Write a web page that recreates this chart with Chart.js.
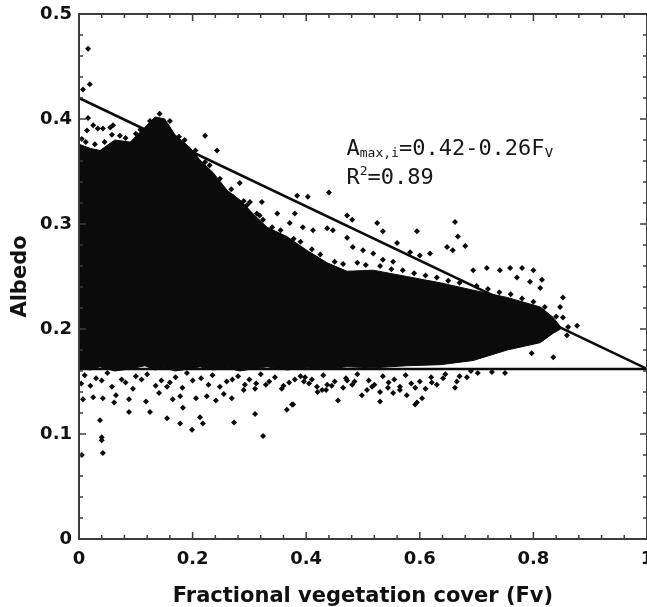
<!DOCTYPE html>
<html><head><meta charset="utf-8">
<script src="https://cdn.jsdelivr.net/npm/chart.js@4.4.1/dist/chart.umd.min.js"></script>
<style>html,body{margin:0;padding:0;background:#fff;overflow:hidden}#wrap{width:647px;height:607px;position:relative}</style>
</head><body><div id="wrap"><canvas id="c" width="647" height="607"></canvas></div>
<script>
// Tick labels
const xTickValues = [0, 0.2, 0.4, 0.6, 0.8, 1];
const yTickValues = [0, 0.1, 0.2, 0.3, 0.4, 0.5];

// Dense point cloud envelope
const cloudX      = [0, 0.02, 0.037, 0.063, 0.09, 0.116, 0.134, 0.151, 0.169, 0.195, 0.213, 0.236, 0.261, 0.283, 0.306, 0.331, 0.366, 0.401, 0.437, 0.472, 0.518, 0.577, 0.636, 0.694, 0.754, 0.812, 0.835, 0.848];
const cloudTop    = [0.376, 0.372, 0.37, 0.38, 0.378, 0.392, 0.402, 0.40, 0.385, 0.373, 0.361, 0.349, 0.332, 0.323, 0.31, 0.297, 0.288, 0.275, 0.263, 0.255, 0.256, 0.25, 0.244, 0.237, 0.23, 0.221, 0.211, 0.202];
const cloudBottom = [0.163, 0.161, 0.164, 0.16, 0.162, 0.165, 0.161, 0.163, 0.16, 0.162, 0.164, 0.161, 0.163, 0.16, 0.162, 0.164, 0.161, 0.163, 0.162, 0.164, 0.163, 0.165, 0.166, 0.17, 0.18, 0.187, 0.196, 0.2];

// Points along the ragged top edge of the cloud
const topEdgeX = [0.005,0.012,0.028,0.045,0.058,0.072,0.082,0.1,0.108,0.125,0.142,0.16,0.176,0.186,0.205,0.222,0.23,0.248,0.268,0.29,0.296,0.318,0.34,0.355,0.378,0.39,0.41,0.425,0.45,0.465,0.49,0.505,0.53,0.55,0.57,0.59,0.61,0.63,0.65,0.67,0.7,0.72,0.74,0.76,0.78,0.8,0.82,0.84];
const topEdgeY = [0.381,0.378,0.376,0.378,0.385,0.384,0.382,0.386,0.39,0.398,0.405,0.398,0.383,0.38,0.37,0.359,0.356,0.343,0.333,0.322,0.318,0.308,0.297,0.294,0.286,0.283,0.276,0.271,0.264,0.262,0.263,0.261,0.26,0.257,0.256,0.253,0.251,0.249,0.246,0.244,0.241,0.238,0.235,0.233,0.229,0.226,0.221,0.212];

// Scattered points above the dense cloud
const upperX = [0.016,0.019,0.007,0.016,0.025,0.033,0.042,0.055,0.014,0.06,0.222,0.243,0.283,0.301,0.322,0.349,0.38,0.384,0.403,0.44,0.472,0.481,0.437,0.447,0.472,0.525,0.535,0.595,0.662,0.667,0.648,0.658,0.68,0.56,0.583,0.60,0.618,0.694,0.718,0.741,0.759,0.78,0.80,0.815,0.771,0.794,0.812,0.852,0.847,0.852,0.877,0.861,0.859,0.394,0.371,0.412,0.324,0.313,0.271,0.482,0.50,0.518,0.535,0.553];
const upperY = [0.467,0.433,0.428,0.401,0.394,0.391,0.391,0.392,0.389,0.394,0.384,0.37,0.339,0.321,0.321,0.31,0.31,0.327,0.326,0.33,0.308,0.304,0.296,0.294,0.287,0.301,0.293,0.293,0.302,0.288,0.278,0.275,0.279,0.282,0.273,0.27,0.272,0.256,0.258,0.256,0.258,0.258,0.256,0.247,0.249,0.245,0.239,0.23,0.221,0.211,0.203,0.202,0.194,0.297,0.301,0.294,0.304,0.31,0.326,0.278,0.275,0.272,0.266,0.264];

// Scattered points below the dense cloud
const lowerX = [0.037,0.04,0.04,0.005,0.042,0.324,0.273,0.31,0.366,0.199,0.218,0.213,0.178,0.155,0.125,0.088,0.183,0.377,0.088,0.118,0.141,0.155,0.165,0.178,0.206,0.225,0.241,0.255,0.269,0.29,0.312,0.329,0.357,0.375,0.396,0.419,0.435,0.007,0.025,0.042,0.065,0.062,0.398,0.428,0.437,0.456,0.472,0.481,0.498,0.507,0.516,0.53,0.53,0.544,0.553,0.565,0.577,0.592,0.592,0.595,0.604,0.621,0.641,0.662,0.665,0.683,0.702,0.727,0.75,0.835,0.797];
const lowerY = [0.113,0.097,0.094,0.08,0.082,0.098,0.111,0.119,0.123,0.104,0.11,0.116,0.11,0.115,0.121,0.121,0.125,0.128,0.133,0.131,0.139,0.145,0.133,0.136,0.134,0.136,0.132,0.138,0.134,0.142,0.148,0.147,0.143,0.128,0.15,0.145,0.142,0.133,0.135,0.134,0.137,0.13,0.154,0.142,0.147,0.132,0.151,0.147,0.137,0.142,0.145,0.131,0.14,0.144,0.139,0.142,0.137,0.144,0.128,0.13,0.134,0.149,0.153,0.144,0.15,0.154,0.158,0.159,0.158,0.173,0.177];

// Points along the lower edge of the cloud (two rows)
const bandX = [0.01,0.03,0.05,0.075,0.1,0.12,0.145,0.17,0.19,0.215,0.235,0.26,0.28,0.3,0.32,0.345,0.37,0.39,0.41,0.43,0.45,0.47,0.49,0.51,0.535,0.555,0.575,0.6,0.62,0.645,0.67,0.69];
const bandY = [0.156,0.153,0.158,0.152,0.155,0.157,0.151,0.154,0.158,0.153,0.156,0.15,0.155,0.152,0.157,0.154,0.149,0.155,0.152,0.156,0.15,0.153,0.157,0.151,0.155,0.152,0.156,0.15,0.154,0.157,0.155,0.16];
const band2X = [0.004,0.02,0.04,0.058,0.082,0.095,0.11,0.135,0.16,0.182,0.2,0.228,0.248,0.27,0.292,0.31,0.335,0.36,0.38,0.405,0.42,0.445,0.465,0.485,0.52,0.545,0.565,0.585,0.61,0.63];
const band2Y = [0.148,0.146,0.151,0.145,0.149,0.143,0.152,0.146,0.149,0.144,0.151,0.147,0.145,0.152,0.147,0.143,0.15,0.146,0.152,0.148,0.14,0.146,0.144,0.15,0.147,0.149,0.145,0.148,0.143,0.147];

// Boundary lines
const fitLineX = [0, 1];
const fitLineY = [0.42, 0.162];
const minLineX = [0, 1];
const minLineY = [0.162, 0.162];

const pts = (xs, ys) => xs.map((x, i) => ({x: x, y: ys[i]}));
const INK = '#0b0b0b';

const frameTicks = {
  id: 'frameTicks',
  afterDatasetsDraw(chart) {
    const {ctx, chartArea: a, scales: {x, y}} = chart;
    ctx.save();
    ctx.strokeStyle = '#3c3c3c';
    ctx.lineWidth = 2;
    ctx.strokeRect(a.left, a.top, a.right - a.left, a.bottom - a.top);
    ctx.lineWidth = 1.5;
    const seg = (x1, y1, x2, y2) => { ctx.beginPath(); ctx.moveTo(x1, y1); ctx.lineTo(x2, y2); ctx.stroke(); };
    for (let i = 0; i <= 25; i++) {
      const px = x.getPixelForValue(i * 0.04);
      const L = (i % 5 === 0) ? 7 : 4;
      seg(px, a.bottom, px, a.bottom - L);
      seg(px, a.top, px, a.top + L);
    }
    for (let i = 0; i <= 25; i++) {
      const py = y.getPixelForValue(i * 0.02);
      const L = (i % 5 === 0) ? 7 : 4;
      seg(a.left, py, a.left + L, py);
      seg(a.right, py, a.right - L, py);
    }
    ctx.restore();
  }
};

const annotation = {
  id: 'annotation',
  afterDatasetsDraw(chart) {
    const {ctx, scales: {x, y}} = chart;
    ctx.save();
    ctx.fillStyle = '#161616';
    ctx.textBaseline = 'alphabetic';
    ctx.textAlign = 'left';
    const big = '22px "DejaVu Sans Mono"';
    const small = '13px "DejaVu Sans Mono"';
    let px = x.getPixelForValue(0.471);
    let py = y.getPixelForValue(0.366);
    const put = (t, f, dy) => { ctx.font = f; ctx.fillText(t, px, py + dy); px += ctx.measureText(t).width; };
    put('A', big, 0);
    put('max,i', small, 2);
    put('=0.42-0.26F', big, 0);
    put('v', '15px "DejaVu Sans Mono"', 2);
    px = x.getPixelForValue(0.471);
    py = y.getPixelForValue(0.338);
    put('R', big, 0);
    put('2', small, -9);
    put('=0.89', big, 0);
    ctx.restore();
  }
};

const dot = (label, data, order) => ({label, data, backgroundColor: INK, borderWidth: 0, pointStyle: 'rectRot', pointRadius: 3, order});

new Chart(document.getElementById('c'), {
  type: 'scatter',
  data: {
    datasets: [
      {label: 'fit', type: 'line', data: pts(fitLineX, fitLineY), borderColor: INK, borderWidth: 2.5, pointRadius: 0, fill: false, order: 0},
      {label: 'min', type: 'line', data: pts(minLineX, minLineY), borderColor: INK, borderWidth: 2.5, pointRadius: 0, fill: false, order: 1},
      dot('upper', pts(upperX, upperY), 2),
      dot('lower', pts(lowerX, lowerY), 3),
      dot('band', pts(bandX, bandY), 4),
      dot('band2', pts(band2X, band2Y), 5),
      dot('topEdge', pts(topEdgeX, topEdgeY), 6),
      {label: 'cloudTop', type: 'line', data: pts(cloudX, cloudTop), borderColor: INK, borderWidth: 1, backgroundColor: INK, pointRadius: 0, fill: '+1', tension: 0, order: 7},
      {label: 'cloudBottom', type: 'line', data: pts(cloudX, cloudBottom), borderColor: INK, borderWidth: 1, pointRadius: 0, fill: false, tension: 0, order: 8}
    ]
  },
  options: {
    responsive: false,
    devicePixelRatio: 1,
    animation: false,
    layout: {autoPadding: false, padding: {top: 14, left: 0, right: 0, bottom: 0}},
    plugins: {legend: {display: false}, tooltip: {enabled: false}},
    scales: {
      x: {
        type: 'linear', min: 0, max: 1,
        grid: {display: false, drawTicks: false},
        border: {display: false},
        afterBuildTicks: s => { s.ticks = xTickValues.map(v => ({value: v})); },
        ticks: {padding: 10, color: '#111', font: {family: 'DejaVu Sans', weight: 'bold', size: 18}, callback: v => String(v)},
        title: {display: true, text: 'Fractional vegetation cover (Fv)', color: '#111', padding: {top: 4, bottom: 0}, font: {family: 'DejaVu Sans', weight: 'bold', size: 21, lineHeight: 1}},
        afterFit: s => { s.height = 68; s.paddingLeft = 0; s.paddingRight = 0; }
      },
      y: {
        type: 'linear', min: 0, max: 0.5,
        grid: {display: false, drawTicks: false},
        border: {display: false},
        afterBuildTicks: s => { s.ticks = yTickValues.map(v => ({value: v})); },
        ticks: {padding: 7, color: '#111', font: {family: 'DejaVu Sans', weight: 'bold', size: 18}, callback: v => String(v)},
        title: {display: true, text: 'Albedo', color: '#111', padding: {top: 10, bottom: 0}, font: {family: 'DejaVu Sans', weight: 'bold', size: 21, lineHeight: 1}},
        afterFit: s => { s.width = 79; s.paddingTop = 0; s.paddingBottom = 0; }
      }
    }
  },
  plugins: [frameTicks, annotation]
});
</script>
</body></html>
